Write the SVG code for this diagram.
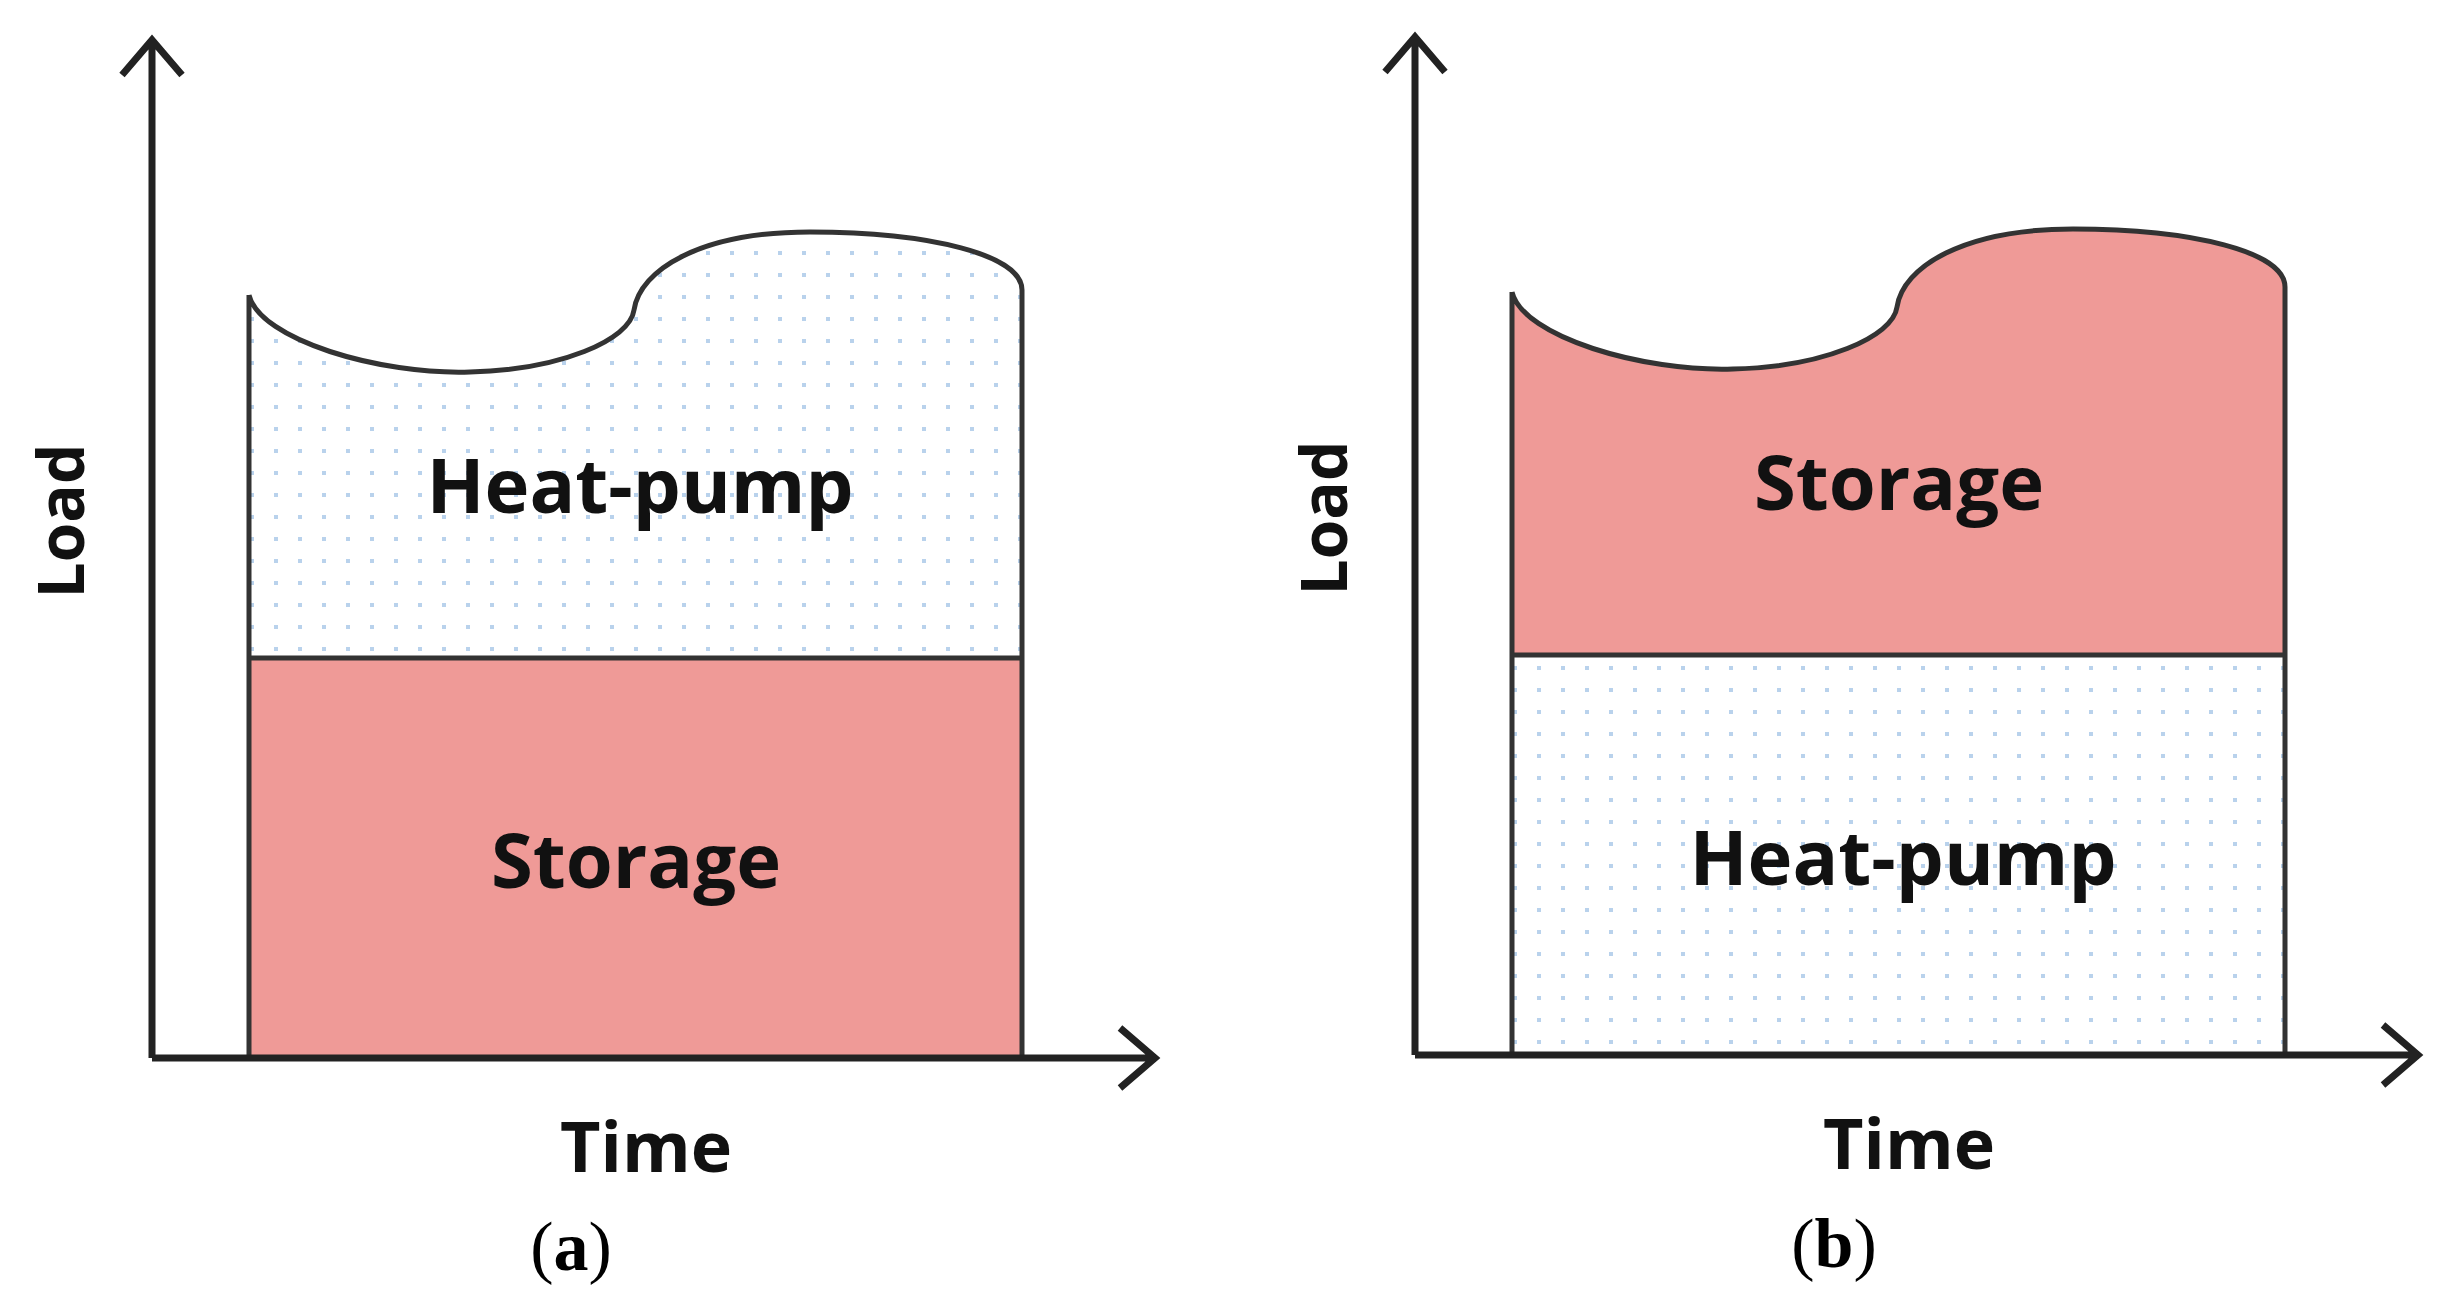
<svg xmlns="http://www.w3.org/2000/svg" width="2440" height="1302" viewBox="0 0 2440 1302">
<style>
.ax{stroke:#222;stroke-width:7;fill:none}
.ol{stroke:#333;stroke-width:5;fill:none}
.lab{font-family:"Open Sans","Liberation Sans",sans-serif;font-weight:bold;fill:#111}
.cap{font-family:"Liberation Serif",serif;font-size:70px;fill:#000}
</style>
<defs>
<pattern id="dots" width="24" height="22" patternUnits="userSpaceOnUse"><rect width="24" height="22" fill="#fff"/><rect x="10" y="9" width="4" height="4" fill="#b9d2ec"/></pattern>
</defs>
<g id="panel-a">
<path d="M249,295 C260,340 380,375 470,372 C560,370 630,340 634,310 C640,270 700,232 810,232 C930,232 1022,255 1022,290 V658 H249 Z" fill="url(#dots)"/>
<rect x="249" y="658" width="773" height="400" fill="#ef9a97"/>
<path class="ol" d="M249,295 C260,340 380,375 470,372 C560,370 630,340 634,310 C640,270 700,232 810,232 C930,232 1022,255 1022,290 V1058 M249,295 V1058 M249,658 H1022"/>
<g class="ax"><path d="M152,1058 V40 M122,75 L152,40 L182,75"/><path d="M152,1058 H1155 M1120,1028 L1155,1058 L1120,1088"/></g>
<text class="lab" x="640" y="513" font-size="76" text-anchor="middle">Heat-pump</text>
<text class="lab" x="636" y="888" font-size="76" text-anchor="middle">Storage</text>
<text class="lab" x="646" y="1172" font-size="70" text-anchor="middle">Time</text>
<text class="lab" transform="translate(84,521) rotate(-90)" font-size="64" text-anchor="middle">Load</text>
<text class="cap" x="571" y="1270" text-anchor="middle">(<tspan font-weight="bold">a</tspan>)</text>
</g>
<g id="panel-b" transform="translate(1263,-3)">
<path d="M249,295 C260,340 380,375 470,372 C560,370 630,340 634,310 C640,270 700,232 810,232 C930,232 1022,255 1022,290 V658 H249 Z" fill="#ef9a97"/>
<rect x="249" y="658" width="773" height="400" fill="url(#dots)"/>
<path class="ol" d="M249,295 C260,340 380,375 470,372 C560,370 630,340 634,310 C640,270 700,232 810,232 C930,232 1022,255 1022,290 V1058 M249,295 V1058 M249,658 H1022"/>
<g class="ax"><path d="M152,1058 V40 M122,75 L152,40 L182,75"/><path d="M152,1058 H1155 M1120,1028 L1155,1058 L1120,1088"/></g>
<text class="lab" x="636" y="513" font-size="76" text-anchor="middle">Storage</text>
<text class="lab" x="640" y="888" font-size="76" text-anchor="middle">Heat-pump</text>
<text class="lab" x="646" y="1172" font-size="70" text-anchor="middle">Time</text>
<text class="lab" transform="translate(84,521) rotate(-90)" font-size="64" text-anchor="middle">Load</text>
<text class="cap" x="571" y="1270" text-anchor="middle">(<tspan font-weight="bold">b</tspan>)</text>
</g>
</svg>
